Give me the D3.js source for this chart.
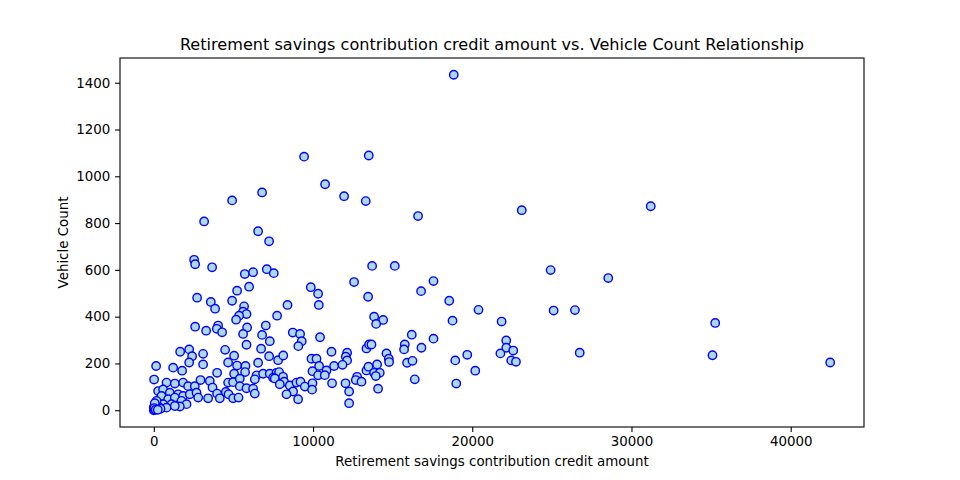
<!DOCTYPE html>
<html>
<head>
<meta charset="utf-8">
<script src="https://cdn.jsdelivr.net/npm/d3@7"></script>
<style>
  body { margin: 0; background: #fff; }
  text { font-family: "DejaVu Sans", sans-serif; fill: #000; }
</style>
</head>
<body>
<div id="chart"></div>
<script>
var svgWidth = 960;
var svgHeight = 480;

var chartMargin = { top: 58, right: 96, bottom: 53, left: 120 };

var chartWidth = svgWidth - chartMargin.left - chartMargin.right;
var chartHeight = svgHeight - chartMargin.top - chartMargin.bottom;

var titleText = "Retirement savings contribution credit amount vs. Vehicle Count Relationship";
var xLabel = "Retirement savings contribution credit amount";
var yLabel = "Vehicle Count";

var xTicks = [0, 10000, 20000, 30000, 40000];
var yTicks = [0, 200, 400, 600, 800, 1000, 1200, 1400];

// credit amount for each point
var creditAmount = [
  18838, 9438, 13500, 10757, 11950, 13312, 16596, 23108, 31209, 6800,
  4917, 3159, 6550, 7240, 2531, 2594, 3661, 5714, 6235, 7096,
  7535, 9859, 10317, 5231, 5984, 2719, 3579, 3849, 4917, 5670,
  5607, 5821, 5356, 5168, 8396, 7743, 10361, 2594, 3284, 4038,
  3956, 4289, 5859, 7033, 8728, 9187, 5607, 6801, 13710, 15134,
  12578, 16787, 13459, 13836, 14402, 13962, 16201, 10440, 17566, 18553,
  20393, 18761, 21843, 17566, 19686, 18931, 20189, 18994, 22135, 22135,
  22575, 21767, 22449, 22744, 24921, 25110, 26449, 26749, 28540, 35259,
  35089, 42480, 7284, 5821, 4478, 5043, 1654, 2220, 2405, 2220,
  3096, 3096, 6738, 7241, 6550, 7806, 4666, 5231, 5758, 5733,
  5043, 3975, 144, 1212, 1777, 19, 2932, 3516, 6449, 6864,
  7285, 7706, 6342, 7492, 4666, 4980, 5400, 5400, 5821, 6235,
  6342, 3686, 3975, 4145, 4522, 4691, 4980, 5319, 3410, 798,
  1319, 1840, 2154, 2575, 270, 584, 1005, 1526, 1840, 2261,
  2682, 2786, 484, 899, 1319, 1740, 2054, 1633, 1112, 584,
  170, 0, 63, 377, 798, 1319, 0, 0, 60, 10,
  9290, 9076, 8131, 11160, 12140, 12058, 12140, 9903, 10217, 10380,
  9965, 10844, 11322, 11850, 10317, 10738, 7868, 7598, 8119, 8182,
  7912, 8540, 8961, 9212, 9482, 9965, 9940, 8747, 8333, 9062,
  11196, 12040, 12266, 12266, 12768, 12685, 13043, 13356, 13481, 13833,
  14022, 14191, 13940, 14084, 13356, 13519, 13670, 14612, 14757, 14776,
  15761, 15717, 16810, 15906, 16245, 16389, 30, 120, 420, 250
];

// vehicle count for each point
var vehicleCount = [
  1434, 1084, 1089, 966, 915, 894, 830, 855, 872, 931,
  897, 807, 765, 722, 643, 624, 611, 582, 590, 603,
  586, 526, 498, 511, 528, 481, 463, 434, 468, 444,
  421, 411, 404, 387, 450, 404, 450, 357, 340, 362,
  348, 333, 354, 362, 332, 326, 326, 322, 617, 617,
  548, 509, 485, 400, 386, 369, 323, 312, 552, 468,
  429, 383, 379, 306, 237, 213, 169, 114, 298, 267,
  255, 243, 213, 207, 599, 426, 428, 246, 565, 373,
  235, 204, 295, 280, 258, 233, 250, 260, 231, 204,
  241, 196, 263, 231, 203, 214, 204, 191, 189, 163,
  156, 160, 189, 182, 169, 131, 129, 125, 149, 156,
  156, 160, 132, 139, 118, 120, 135, 103, 94, 92,
  71, 97, 71, 51, 78, 68, 51, 54, 51, 118,
  114, 118, 103, 103, 82, 89, 75, 68, 61, 68,
  75, 54, 61, 47, 54, 40, 26, 16, 26, 26,
  40, 7, 21, 11, 11, 18, 0, 13, 30, 4,
  295, 274, 234, 250, 246, 229, 213, 220, 220, 189,
  167, 170, 189, 194, 149, 150, 163, 136, 143, 122,
  111, 106, 118, 122, 101, 115, 88, 80, 68, 47,
  115, 115, 80, 30, 143, 129, 122, 170, 186, 160,
  196, 160, 146, 92, 264, 281, 281, 243, 220, 206,
  281, 260, 267, 203, 211, 132, 9, 3, 6, 2
];

var points = creditAmount.map(function(x, i) {
  return { x: x, y: vehicleCount[i] };
});

var svg = d3
  .select("#chart")
  .append("svg")
  .attr("width", svgWidth)
  .attr("height", svgHeight);

var chartGroup = svg.append("g")
  .attr("transform", `translate(${chartMargin.left}, ${chartMargin.top})`);

// matplotlib style 5% padding on both axes
var xMin = d3.min(creditAmount), xMax = d3.max(creditAmount);
var yMin = d3.min(vehicleCount), yMax = d3.max(vehicleCount);
var xPad = (xMax - xMin) * 0.05;
var yPad = (yMax - yMin) * 0.05;

var xScale = d3.scaleLinear()
  .domain([xMin - xPad, xMax + xPad])
  .range([0, chartWidth]);

var yScale = d3.scaleLinear()
  .domain([yMin - yPad, yMax + yPad])
  .range([chartHeight, 0]);

var bottomAxis = d3.axisBottom(xScale)
  .tickValues(xTicks)
  .tickFormat(d3.format("d"))
  .tickSizeInner(4.9)
  .tickSizeOuter(0)
  .tickPadding(4.9);

var leftAxis = d3.axisLeft(yScale)
  .tickValues(yTicks)
  .tickFormat(d3.format("d"))
  .tickSizeInner(4.9)
  .tickSizeOuter(0)
  .tickPadding(4.9);

var xAxisG = chartGroup.append("g")
  .attr("transform", `translate(0, ${chartHeight})`)
  .call(bottomAxis);

var yAxisG = chartGroup.append("g")
  .call(leftAxis);

[xAxisG, yAxisG].forEach(function(g) {
  g.select(".domain").remove();
  g.selectAll("line").attr("stroke", "#000").attr("stroke-width", 1.1);
  g.selectAll("text")
    .style("font-size", "13.4px")
    .style("font-family", "DejaVu Sans, sans-serif")
    .attr("fill", "#000");
});

chartGroup.selectAll(".dot")
  .data(points)
  .enter()
  .append("circle")
  .attr("class", "dot")
  .attr("cx", d => xScale(d.x))
  .attr("cy", d => yScale(d.y))
  .attr("r", 4.2)
  .attr("fill", "#add8e6")
  .attr("stroke", "#0000ff")
  .attr("stroke-width", 1.4);

// frame
chartGroup.append("rect")
  .attr("width", chartWidth)
  .attr("height", chartHeight)
  .attr("fill", "none")
  .attr("stroke", "#000")
  .attr("stroke-width", 1.1);

svg.append("text")
  .attr("x", chartMargin.left + chartWidth / 2)
  .attr("y", chartMargin.top - 8)
  .attr("text-anchor", "middle")
  .style("font-size", "16.1px")
  .text(titleText);

svg.append("text")
  .attr("x", chartMargin.left + chartWidth / 2)
  .attr("y", 466)
  .attr("text-anchor", "middle")
  .style("font-size", "13.4px")
  .text(xLabel);

svg.append("text")
  .attr("transform", `translate(68, ${chartMargin.top + chartHeight / 2}) rotate(-90)`)
  .attr("text-anchor", "middle")
  .style("font-size", "13.4px")
  .text(yLabel);
</script>
</body>
</html>
